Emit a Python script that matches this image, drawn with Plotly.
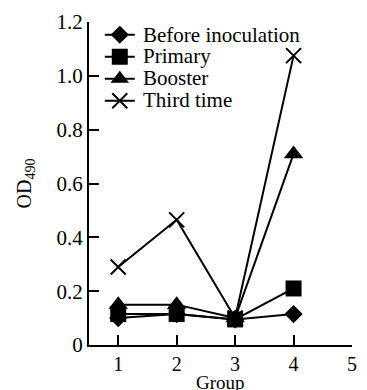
import plotly.graph_objects as go

groups = [1, 2, 3, 4]
before = [0.10, 0.115, 0.095, 0.115]
primary = [0.115, 0.115, 0.095, 0.21]
booster = [0.15, 0.15, 0.10, 0.71]
third = [0.29, 0.465, 0.10, 1.075]
series_names = ["Before inoculation", "Primary", "Booster", "Third time"]

yticks = [0, 0.2, 0.4, 0.6, 0.8, 1.0, 1.2]
yticktext = ["0", "0.2", "0.4", "0.6", "0.8", "1.0", "1.2"]
xticks = [1, 2, 3, 4, 5]

markers = [
    dict(symbol="diamond", size=14),
    dict(symbol="square", size=16),
    dict(symbol="triangle-up", size=17),
    dict(symbol="x-thin-open", size=15, line=dict(width=2, color="black")),
]

serif = "Liberation Serif"
W, H = 367, 390
ML, MR, MT, MB = 89, 10, 19, 45
plot_h = H - MT - MB

fig = go.Figure()
for name, vals, mk in zip(series_names, [before, primary, booster, third], markers):
    fig.add_trace(go.Scatter(
        x=groups, y=vals, mode="lines+markers",
        name="\u00a0", legendgroup=name, hovertemplate=name + ": %{y}<extra></extra>",
        line=dict(color="black", width=2),
        marker=dict(color="black", **mk),
    ))

# legend rows: plotly item height = font*1.3 + 3 ; first row centre = top + 5 + h/2
leg_font = 14.6
item_h = leg_font * 1.3 + 3
leg_y = 1.01
leg_top_px = (1 - leg_y) * plot_h
legend_annots = []
for i, name in enumerate(series_names):
    row_px = leg_top_px + 5 + item_h / 2 + i * item_h  # px below plot top
    legend_annots.append(dict(
        text=name, xref="paper", yref="paper", x=(142 - ML) / (W - ML - MR),
        y=1 - row_px / plot_h, xanchor="left", yanchor="middle", showarrow=False,
        font=dict(family=serif, size=21, color="black")))

fig.update_layout(
    width=W, height=H,
    margin=dict(l=ML, r=MR, t=MT, b=MB),
    paper_bgcolor="white", plot_bgcolor="white",
    font=dict(family=serif, size=20, color="black"),
    showlegend=True,
    legend=dict(x=0.041, y=leg_y, xanchor="left", yanchor="top",
                bgcolor="rgba(0,0,0,0)", font=dict(family=serif, size=leg_font, color="black"),
                tracegroupgap=0, itemwidth=30),
    xaxis=dict(range=[0.5, 5], tickvals=xticks, ticks="inside", ticklen=10,
               tickwidth=2, tickcolor="black", showline=True, linecolor="black",
               linewidth=2, showgrid=False, zeroline=False,
               tickfont=dict(family=serif, size=20, color="black")),
    yaxis=dict(range=[0, 1.2], tickvals=yticks, ticktext=yticktext, ticks="inside",
               ticklen=10, tickwidth=2, tickcolor="black", showline=True,
               linecolor="black", linewidth=2, showgrid=False, zeroline=False,
               tickfont=dict(family=serif, size=21, color="black"),
               title=dict(text="OD<sub>490</sub>", standoff=20,
                          font=dict(family=serif, size=20, color="black"))),
    annotations=[dict(text="Group", xref="paper", yref="paper", x=0.5, y=0,
                      xanchor="center", yanchor="top", yshift=-25, showarrow=False,
                      font=dict(family=serif, size=19, color="black"))] + legend_annots,
)

fig.write_html("out.html", config={"displayModeBar": False},
               post_script="document.body.style.margin='0';")
